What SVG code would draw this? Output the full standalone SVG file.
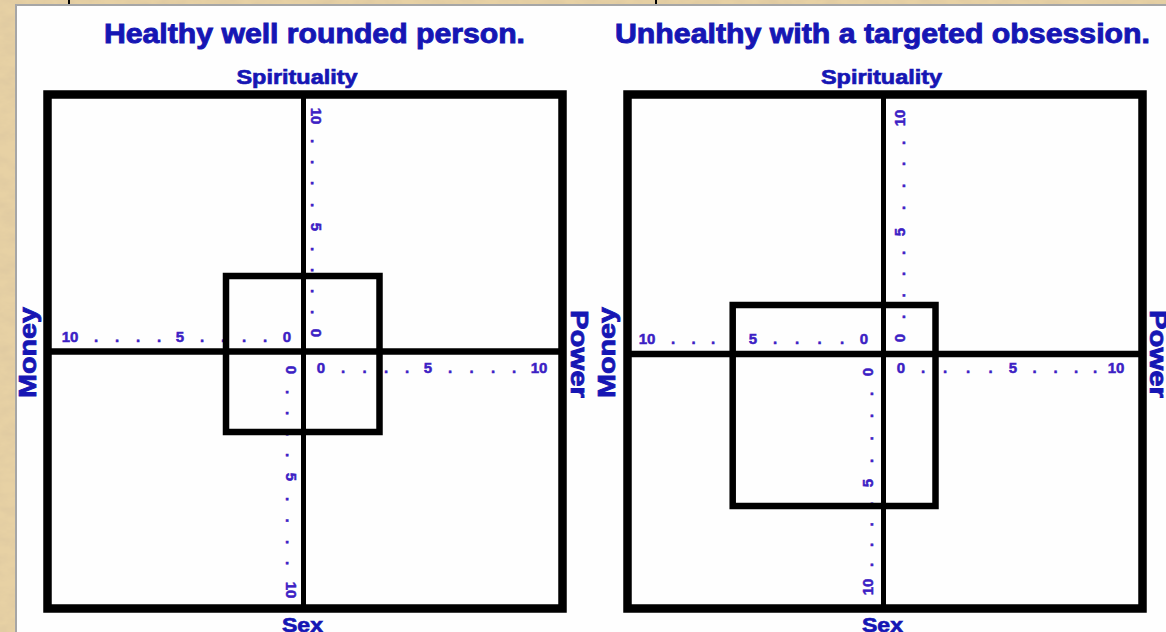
<svg xmlns="http://www.w3.org/2000/svg" width="1166" height="632" viewBox="0 0 1166 632">
  <defs>
    <filter id="parch" x="0" y="0" width="100%" height="100%">
      <feTurbulence type="fractalNoise" baseFrequency="0.05 0.09" numOctaves="4" seed="7"/>
      <feColorMatrix type="matrix" values="0 0 0 0 0.68  0 0 0 0 0.54  0 0 0 0 0.34  0.9 0 0 0 -0.3"/>
    </filter>
    <style>
      .title{font-family:"Liberation Sans",Arial,sans-serif;font-weight:bold;font-size:27px;fill:#1616b4;stroke:#1616b4;stroke-width:0.9px;text-anchor:middle}
      .aname{font-family:"Liberation Sans",Arial,sans-serif;font-weight:bold;font-size:21px;fill:#1616b4;stroke:#1616b4;stroke-width:0.7px;text-anchor:middle}
      .side{font-family:"Liberation Sans",Arial,sans-serif;font-weight:bold;font-size:24px;fill:#1616b4;stroke:#1616b4;stroke-width:0.8px;text-anchor:middle}
      .tick text{font-family:"Liberation Sans",Arial,sans-serif;font-weight:bold;font-size:15px;fill:#3c20c4;stroke:#3c20c4;stroke-width:0.5px;text-anchor:middle}
      .frame{fill:none;stroke:#000;stroke-width:8.5}
      .inner{fill:none;stroke:#000;stroke-width:6.5}
      .vaxis{stroke:#000;stroke-width:5}
      .haxis{stroke:#000;stroke-width:6.5}
    </style>
  </defs>

  <g id="background">
    <rect x="0" y="0" width="1166" height="632" fill="#e7d1a4"/>
    <rect x="0" y="0" width="1166" height="632" filter="url(#parch)"/>
    <rect x="68" y="0" width="2" height="5" fill="#000"/>
    <rect x="655" y="0" width="2" height="5" fill="#000"/>
    <rect x="16" y="5" width="1160" height="640" fill="#fefefe" stroke="#a6a6a6" stroke-width="2"/>
  </g>

  <!-- LEFT PANEL -->
  <g id="left-panel">
    <text id="left-title" class="title" x="314.5" y="43" textLength="421" lengthAdjust="spacingAndGlyphs">Healthy well rounded person.</text>
    <text class="aname" x="297" y="84" textLength="121" lengthAdjust="spacingAndGlyphs">Spirituality</text>
    <text class="aname" x="302.5" y="632" textLength="41" lengthAdjust="spacingAndGlyphs">Sex</text>
    <text class="side" transform="translate(36 352.5) rotate(-90)" textLength="91" lengthAdjust="spacingAndGlyphs">Money</text>
    <text class="side" transform="translate(571 354) rotate(90)" textLength="88" lengthAdjust="spacingAndGlyphs">Power</text>

    <g id="left-money-scale" class="tick">
      <text x="70" y="342">10</text><text x="96" y="342">.</text><text x="117" y="342">.</text><text x="138" y="342">.</text><text x="159" y="342">.</text>
      <text x="180" y="342">5</text><text x="202" y="342">.</text><text x="223" y="342">.</text><text x="244" y="342">.</text><text x="265" y="342">.</text>
      <text x="287" y="342">0</text>
    </g>
    <g id="left-power-scale" class="tick">
      <text x="321" y="372.5">0</text><text x="343" y="372.5">.</text><text x="364.5" y="372.5">.</text><text x="386" y="372.5">.</text><text x="407" y="372.5">.</text>
      <text x="428" y="372.5">5</text><text x="450" y="372.5">.</text><text x="471.5" y="372.5">.</text><text x="493" y="372.5">.</text><text x="514" y="372.5">.</text>
      <text x="539" y="372.5">10</text>
    </g>
    <g id="left-spirit-scale" class="tick" transform="translate(316 0) rotate(90)">
      <text x="116" y="5.4">10</text><text x="141" y="5.4">.</text><text x="162" y="5.4">.</text><text x="183" y="5.4">.</text><text x="205" y="5.4">.</text>
      <text x="227" y="5.4">5</text><text x="249" y="5.4">.</text><text x="270" y="5.4">.</text><text x="291" y="5.4">.</text><text x="312" y="5.4">.</text>
      <text x="333" y="5.4">0</text>
    </g>
    <g id="left-sex-scale" class="tick" transform="translate(291 0) rotate(90)">
      <text x="370" y="5.4">0</text><text x="392" y="5.4">.</text><text x="413" y="5.4">.</text><text x="434" y="5.4">.</text><text x="455" y="5.4">.</text>
      <text x="477" y="5.4">5</text><text x="499" y="5.4">.</text><text x="520.5" y="5.4">.</text><text x="542" y="5.4">.</text><text x="563" y="5.4">.</text>
      <text x="590" y="5.4">10</text>
    </g>

    <rect id="left-frame" class="frame" x="47.5" y="94.5" width="515" height="514"/>
    <g id="left-axes">
      <line class="vaxis" x1="303.5" y1="94.5" x2="303.5" y2="608.5"/>
      <line class="haxis" x1="47.5" y1="351.5" x2="562.5" y2="351.5"/>
    </g>
    <rect id="left-profile" class="inner" x="226" y="276" width="153.5" height="156"/>
  </g>

  <!-- RIGHT PANEL -->
  <g id="right-panel">
    <text id="right-title" class="title" x="882.5" y="43" textLength="535" lengthAdjust="spacingAndGlyphs">Unhealthy with a targeted obsession.</text>
    <text class="aname" x="881.5" y="84" textLength="121" lengthAdjust="spacingAndGlyphs">Spirituality</text>
    <text class="aname" x="882.5" y="632" textLength="41" lengthAdjust="spacingAndGlyphs">Sex</text>
    <text class="side" transform="translate(615 352.5) rotate(-90)" textLength="91" lengthAdjust="spacingAndGlyphs">Money</text>
    <text class="side" transform="translate(1150 354) rotate(90)" textLength="88" lengthAdjust="spacingAndGlyphs">Power</text>

    <g id="right-money-scale" class="tick">
      <text x="647" y="344">10</text><text x="673" y="344">.</text><text x="693.5" y="344">.</text><text x="713" y="344">.</text><text x="733" y="344">.</text>
      <text x="753" y="344">5</text><text x="775" y="344">.</text><text x="797" y="344">.</text><text x="819.5" y="344">.</text><text x="842" y="344">.</text>
      <text x="864" y="344">0</text>
    </g>
    <g id="right-power-scale" class="tick">
      <text x="901" y="373">0</text><text x="923" y="373">.</text><text x="945" y="373">.</text><text x="968" y="373">.</text><text x="990.5" y="373">.</text>
      <text x="1013" y="373">5</text><text x="1034.5" y="373">.</text><text x="1055.5" y="373">.</text><text x="1076" y="373">.</text><text x="1095" y="373">.</text>
      <text x="1116" y="373">10</text>
    </g>
    <g id="right-spirit-scale" class="tick" transform="translate(900 0) rotate(-90)">
      <text x="-118" y="5.4">10</text><text x="-143" y="5.4">.</text><text x="-164" y="5.4">.</text><text x="-186" y="5.4">.</text><text x="-208" y="5.4">.</text>
      <text x="-232" y="5.4">5</text><text x="-253" y="5.4">.</text><text x="-274" y="5.4">.</text><text x="-295.5" y="5.4">.</text><text x="-317" y="5.4">.</text>
      <text x="-338" y="5.4">0</text>
    </g>
    <g id="right-sex-scale" class="tick" transform="translate(868 0) rotate(-90)">
      <text x="-372" y="5.4">0</text><text x="-394" y="5.4">.</text><text x="-416" y="5.4">.</text><text x="-438.5" y="5.4">.</text><text x="-461" y="5.4">.</text>
      <text x="-483" y="5.4">5</text><text x="-504" y="5.4">.</text><text x="-524.5" y="5.4">.</text><text x="-545" y="5.4">.</text><text x="-565" y="5.4">.</text>
      <text x="-587" y="5.4">10</text>
    </g>

    <rect id="right-frame" class="frame" x="627.5" y="94.5" width="515" height="514"/>
    <g id="right-axes">
      <line class="vaxis" x1="883.5" y1="94.5" x2="883.5" y2="608.5"/>
      <line class="haxis" x1="627.5" y1="354" x2="1142.5" y2="354"/>
    </g>
    <rect id="right-profile" class="inner" x="732.7" y="305" width="202.8" height="201"/>
  </g>
</svg>
